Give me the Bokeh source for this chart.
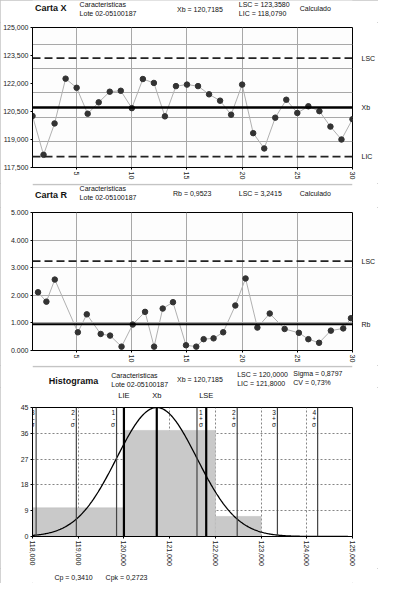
import math
import numpy as np
from bokeh.plotting import figure
from bokeh.layouts import column
from bokeh.models import Span, FixedTicker, CustomJSTickFormatter, Range1d, LinearAxis, Label
from bokeh.core.properties import value
from bokeh.embed import file_html
from bokeh.resources import INLINE

# ---------------- data ----------------
sample = list(range(1, 31))
x_means = [120.26, 118.18, 119.86, 122.26, 121.77, 120.38, 120.99, 121.56, 121.61, 120.68,
           122.24, 122.03, 120.24, 121.86, 121.94, 121.86, 121.42, 121.08, 120.33, 121.94,
           119.34, 118.52, 120.17, 121.13, 120.42, 120.78, 120.52, 119.69, 119.00, 120.09]
x_center = 120.7185
x_lsc = 123.3580
x_lic = 118.0790
x_yticks = [117.5, 119.0, 120.5, 122.0, 123.5, 125.0]
x_ygrid = [118.9, 120.2, 121.5, 122.8, 124.1]
x_xticks = [5, 10, 15, 20, 25, 30]

r_pos = [1.5, 2.26, 3.02, 5.11, 5.92, 7.18, 8.03, 9.07, 10.08, 11.2,
         12.02, 12.8, 13.73, 14.91, 15.84, 16.51, 17.41, 18.28, 19.38, 20.31,
         21.38, 22.5, 23.85, 25.14, 26.0, 26.97, 28.04, 29.16, 29.86]
r_values = [2.11, 1.77, 2.57, 0.66, 1.31, 0.60, 0.54, 0.14, 0.94, 1.40,
            0.14, 1.52, 1.75, 0.19, 0.14, 0.41, 0.44, 0.66, 1.63, 2.61,
            0.83, 1.34, 0.78, 0.64, 0.41, 0.28, 0.72, 0.80, 1.17]
r_center = 0.9523
r_lsc = 3.2415
r_yticks = [0, 1, 2, 3, 4, 5]

hist_left = [118.0, 120.0, 122.0]
hist_right = [120.0, 122.0, 123.0]
hist_counts = [10, 37, 7]
hist_mean = 120.7185
hist_sigma = 0.8797
hist_lie = 120.0
hist_lse = 121.8
hist_peak = 45
hist_sigma_k = [-3, -2, -1, 1, 2, 3, 4]
hist_sigma_lbl = ["3\n-\nσ", "2\n-\nσ", "1\n-\nσ", "1\n+\nσ", "2\n+\nσ", "3\n+\nσ", "4\n+\nσ"]
hist_yticks = [0, 9, 18, 27, 36, 45]
hist_xticks = [118, 119, 120, 121, 122, 123, 124, 125]

# ---------------- layout helpers ----------------
W = 378
SX = 378 / 394
SY = 583 / 599
FONT = "Liberation Sans"
SEP = "#c4c4c4"
comma3 = CustomJSTickFormatter(code="return tick.toFixed(3).replace('.', ',');")


def names_formatter(vals, names):
    return CustomJSTickFormatter(args=dict(vals=vals, names=names), code="""
        let best = 0;
        for (let i = 1; i < vals.length; i++) {
            if (Math.abs(vals[i] - tick) < Math.abs(vals[best] - tick)) best = i;
        }
        return names[best];
    """)


def make_fig(h, left, right, top, bottom, xr, yr):
    p = figure(width=W, height=h, output_backend="svg", toolbar_location=None, title=None,
               x_range=Range1d(*xr), y_range=Range1d(*yr),
               min_border_left=left, min_border_right=right,
               min_border_top=top, min_border_bottom=bottom)
    p.background_fill_color = "#fdfdfd"
    p.border_fill_color = "white"
    p.outline_line_color = "black"
    p.outline_line_width = 1
    for ax in (p.xaxis[0], p.yaxis[0]):
        ax.axis_line_color = "black"
        ax.major_tick_in = 0
        ax.major_tick_out = 2
        ax.minor_tick_line_color = None
        ax.major_label_text_font = FONT
        ax.major_label_text_font_size = "7px"
        ax.major_label_text_color = "#222222"
        ax.major_label_standoff = 2
    p.xaxis.major_label_orientation = -math.pi / 2
    return p


def text_fig(h, items, separator=True):
    """items: (text, ref_x, ref_y_relative_to_panel_top, size, bold)"""
    t = figure(width=W, height=h, output_backend="svg", toolbar_location=None, title=None,
               x_range=Range1d(0, W), y_range=Range1d(h, 0),
               x_axis_type=None, y_axis_type=None,
               min_border_left=0, min_border_right=0, min_border_top=0, min_border_bottom=0)
    t.grid.visible = False
    t.outline_line_color = None
    t.background_fill_color = "white"
    t.border_fill_color = "white"
    if separator:
        t.add_layout(Span(location=1, dimension="width", line_color=SEP, line_width=1.5))
    for txt, rx, ry, size, bold in items:
        t.text(x=[rx * SX], y=[ry * SY], text=[txt], text_font=value(FONT),
               text_font_size=value(size), text_font_style="bold" if bold else "normal",
               text_baseline="middle", text_align="left", text_color="#111111")
    return t


def side_axis(p, where, vals, names, size="7px"):
    ax = LinearAxis(ticker=FixedTicker(ticks=vals), formatter=names_formatter(vals, names))
    ax.axis_line_color = None
    ax.major_tick_line_color = None
    ax.minor_tick_line_color = None
    ax.major_label_standoff = 3
    ax.major_label_text_font = FONT
    ax.major_label_text_font_size = size
    ax.major_label_text_color = "#111111"
    p.add_layout(ax, where)
    return ax


# ---------------- Carta X ----------------
h1 = text_fig(22, [("Carta X", 3, 8, "9px", True),
                   ("Caracteristicas", 58, 4.5, "7px", False),
                   ("Lote 02-05100187", 58, 13.5, "7px", False),
                   ("Xb = 120,7185", 178, 9, "7px", False),
                   ("LSC = 123,3580", 254, 4.5, "7px", False),
                   ("LIC = 118,0790", 254, 13, "7px", False),
                   ("Calculado", 329, 8, "7px", False)], separator=False)
p1 = make_fig(161, 29, 16, 5, 16, (1, 30), (117.5, 125))
p1.xaxis.ticker = FixedTicker(ticks=x_xticks)
p1.yaxis.ticker = FixedTicker(ticks=x_yticks)
p1.yaxis.formatter = comma3
p1.xgrid.ticker = FixedTicker(ticks=x_xticks[:-1])
p1.ygrid.ticker = FixedTicker(ticks=x_ygrid)
for g in (p1.xgrid[0], p1.ygrid[0]):
    g.grid_line_color = "#a8a8a8"
    g.grid_line_width = 1
p1.line(sample, x_means, line_color="#b0b0b0", line_width=1)
p1.scatter(sample, x_means, size=5.5, fill_color="#333333", line_color="#333333")
p1.add_layout(Span(location=x_center, dimension="width", line_color="black", line_width=2.5))
p1.add_layout(Span(location=x_lsc, dimension="width", line_color="#222222", line_width=1.8, line_dash="8 4"))
p1.add_layout(Span(location=x_lic, dimension="width", line_color="#222222", line_width=1.8, line_dash="8 4"))
side_axis(p1, "right", [x_lic, x_center, x_lsc], ["LIC", "Xb", "LSC"])

# ---------------- Carta R ----------------
h2 = text_fig(24, [("Carta R", 3, 12, "9px", True),
                   ("Caracteristicas", 58, 5.5, "7px", False),
                   ("Lote 02-05100187", 58, 14, "7px", False),
                   ("Rb = 0,9523", 173, 10.5, "7px", False),
                   ("LSC = 3,2415", 254, 10.5, "7px", False),
                   ("Calculado", 329, 10.5, "7px", False)])
p2 = make_fig(158, 29, 18, 5, 12, (1, 30), (0, 5))
p2.xaxis.ticker = FixedTicker(ticks=x_xticks)
p2.yaxis.ticker = FixedTicker(ticks=r_yticks)
p2.yaxis.formatter = CustomJSTickFormatter(code="return tick.toFixed(3);")
p2.xgrid.ticker = FixedTicker(ticks=x_xticks[:-1])
p2.ygrid.ticker = FixedTicker(ticks=r_yticks)
for g in (p2.xgrid[0], p2.ygrid[0]):
    g.grid_line_color = "#a8a8a8"
    g.grid_line_width = 1
p2.line(r_pos, r_values, line_color="#b0b0b0", line_width=1)
p2.scatter(r_pos, r_values, size=5.5, fill_color="#333333", line_color="#333333")
p2.add_layout(Span(location=r_center, dimension="width", line_color="black", line_width=2))
p2.add_layout(Span(location=r_lsc, dimension="width", line_color="#222222", line_width=1.8, line_dash="8 4"))
side_axis(p2, "right", [r_center, r_lsc], ["Rb", "LSC"])

# ---------------- Histograma ----------------
h3 = text_fig(22, [("Histograma", 20, 15.5, "9px", True),
                   ("Caracteristicas", 97, 10.5, "7px", False),
                   ("Lote 02-05100187", 97, 19.5, "7px", False),
                   ("Xb = 120,7185", 178, 14, "7px", False),
                   ("LSC = 120,0000", 252, 9.5, "7px", False),
                   ("LIC = 121,8000", 252, 18, "7px", False),
                   ("Sigma = 0,8797", 321, 8.5, "7px", False),
                   ("CV = 0,73%", 321, 17, "7px", False)])
p3 = make_fig(181, 29, 17, 14, 32, (118, 125), (0, 45))
p3.background_fill_color = "white"
p3.xaxis.ticker = FixedTicker(ticks=hist_xticks)
p3.xaxis.formatter = comma3
p3.yaxis.ticker = FixedTicker(ticks=hist_yticks)
p3.xgrid.ticker = FixedTicker(ticks=hist_xticks[1:-1])
p3.ygrid.ticker = FixedTicker(ticks=hist_yticks[1:-1])
for g in (p3.xgrid[0], p3.ygrid[0]):
    g.grid_line_color = "#666666"
    g.grid_line_width = 0.8
    g.grid_line_dash = "2 2"
p3.quad(left=hist_left, right=hist_right, top=hist_counts, bottom=0,
        fill_color="#c9c9c9", line_color="#bbbbbb", line_width=0.5)
xc = np.linspace(hist_left[0], 124.9, 400)
yc = hist_peak * np.exp(-0.5 * ((xc - hist_mean) / hist_sigma) ** 2)
p3.line(xc, yc, line_color="black", line_width=1.3)
for k, lbl in zip(hist_sigma_k, hist_sigma_lbl):
    loc = hist_mean + k * hist_sigma
    p3.add_layout(Span(location=loc, dimension="height", line_color="#444444", line_width=1.2))
    right_side = (k == 1)
    p3.add_layout(Label(x=loc, y=45, x_offset=2 if right_side else -1.5, y_offset=-1.5, text=lbl,
                        text_font=FONT, text_font_size="6.5px",
                        text_align="left" if right_side else "right", text_baseline="top",
                        text_line_height=0.85, text_color="#111111"))
for loc in (hist_lie, hist_mean, hist_lse):
    p3.add_layout(Span(location=loc, dimension="height", line_color="black", line_width=2.2))
top_ax = side_axis(p3, "above", [hist_lie, hist_mean, hist_lse], ["LIE", "Xb", "LSE"], size="7.5px")
top_ax.major_label_standoff = 2

f3 = text_fig(15, [("Cp = 0,3410", 27, 9, "7px", False),
                   ("Cpk = 0,2723", 90, 9, "7px", False)], separator=False)

layout = column(h1, p1, h2, p2, h3, p3, f3, spacing=0,
                styles={"outline": "1px solid " + SEP, "outline-offset": "-1px"})
open("out.html", "w").write(file_html(layout, INLINE))
